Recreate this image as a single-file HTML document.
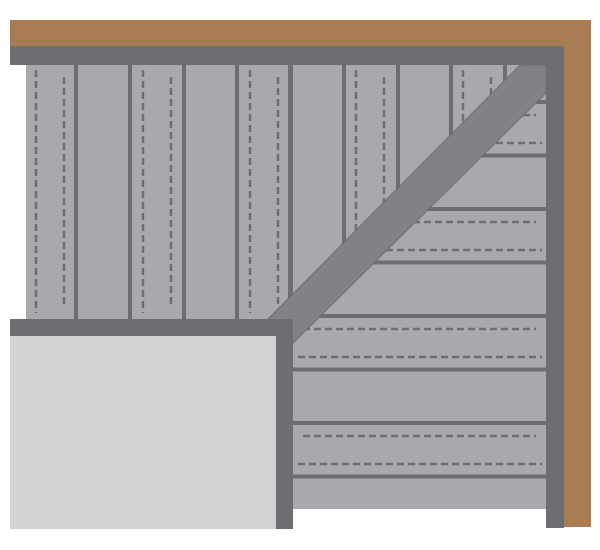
<!DOCTYPE html>
<html><head><style>html,body{margin:0;padding:0;background:#fff}svg{display:block}</style></head>
<body>
<svg width="600" height="550" viewBox="0 0 600 550" xmlns="http://www.w3.org/2000/svg">
<defs>
<clipPath id="hz"><polygon points="546,93 546,509 293,509 293,343"/></clipPath>
</defs>
<polygon points="10,20 591,20 591,527 564,527 564,46 10,46" fill="#a87c50"/>
<rect x="26" y="65" width="520" height="254" fill="#6d6e71"/>
<g fill="#a7a9ac">
<rect x="26" y="65" width="48" height="254"/>
<rect x="78" y="65" width="50" height="254"/>
<rect x="132" y="65" width="50" height="254"/>
<rect x="186" y="65" width="49" height="254"/>
<rect x="239" y="65" width="49" height="254"/>
<rect x="293" y="65" width="49" height="254"/>
<rect x="346" y="65" width="50" height="254"/>
<rect x="400" y="65" width="49" height="254"/>
<rect x="453" y="65" width="50" height="254"/>
<rect x="507" y="65" width="39" height="254"/>
</g>
<g stroke="#6d6e71" stroke-width="2.5" stroke-dasharray="7,4">
<line x1="36" y1="70" x2="36" y2="313"/><line x1="64" y1="77" x2="64" y2="304"/>
<line x1="143" y1="70" x2="143" y2="313"/><line x1="171" y1="77" x2="171" y2="304"/>
<line x1="250" y1="70" x2="250" y2="313"/><line x1="278" y1="77" x2="278" y2="304"/>
<line x1="356" y1="70" x2="356" y2="313"/><line x1="384" y1="77" x2="384" y2="304"/>
<line x1="463" y1="70" x2="463" y2="313"/><line x1="491" y1="77" x2="491" y2="304"/>
</g>
<g clip-path="url(#hz)">
<rect x="293" y="65" width="253" height="444" fill="#a7a9ac"/>
<g fill="#6d6e71">
<rect x="293" y="100" width="253" height="4"/>
<rect x="293" y="153.5" width="253" height="4"/>
<rect x="293" y="207" width="253" height="4"/>
<rect x="293" y="260.5" width="253" height="4"/>
<rect x="293" y="314" width="253" height="4"/>
<rect x="293" y="367.5" width="253" height="4"/>
<rect x="293" y="421" width="253" height="4"/>
<rect x="293" y="474.5" width="253" height="4"/>
</g>
<g stroke="#6d6e71" stroke-width="2.5" stroke-dasharray="7,4">
<line x1="303" y1="115" x2="536" y2="115"/><line x1="298" y1="143" x2="542" y2="143"/>
<line x1="303" y1="222" x2="536" y2="222"/><line x1="298" y1="250" x2="542" y2="250"/>
<line x1="303" y1="329" x2="536" y2="329"/><line x1="298" y1="357" x2="542" y2="357"/>
<line x1="303" y1="436" x2="536" y2="436"/><line x1="298" y1="464" x2="542" y2="464"/>
</g>
</g>
<polygon points="520,65 546,65 546,93 293,343 268,319" fill="#808285" stroke="#6d6e71" stroke-width="1"/>
<polygon points="10,46 564,46 564,528 546,528 546,65 10,65" fill="#6d6e71"/>
<rect x="10" y="319" width="283" height="17" fill="#6d6e71"/>
<rect x="276" y="319" width="17" height="210" fill="#6d6e71"/>
<rect x="10" y="336" width="266" height="193" fill="#d1d3d4"/>
</svg>
</body></html>
